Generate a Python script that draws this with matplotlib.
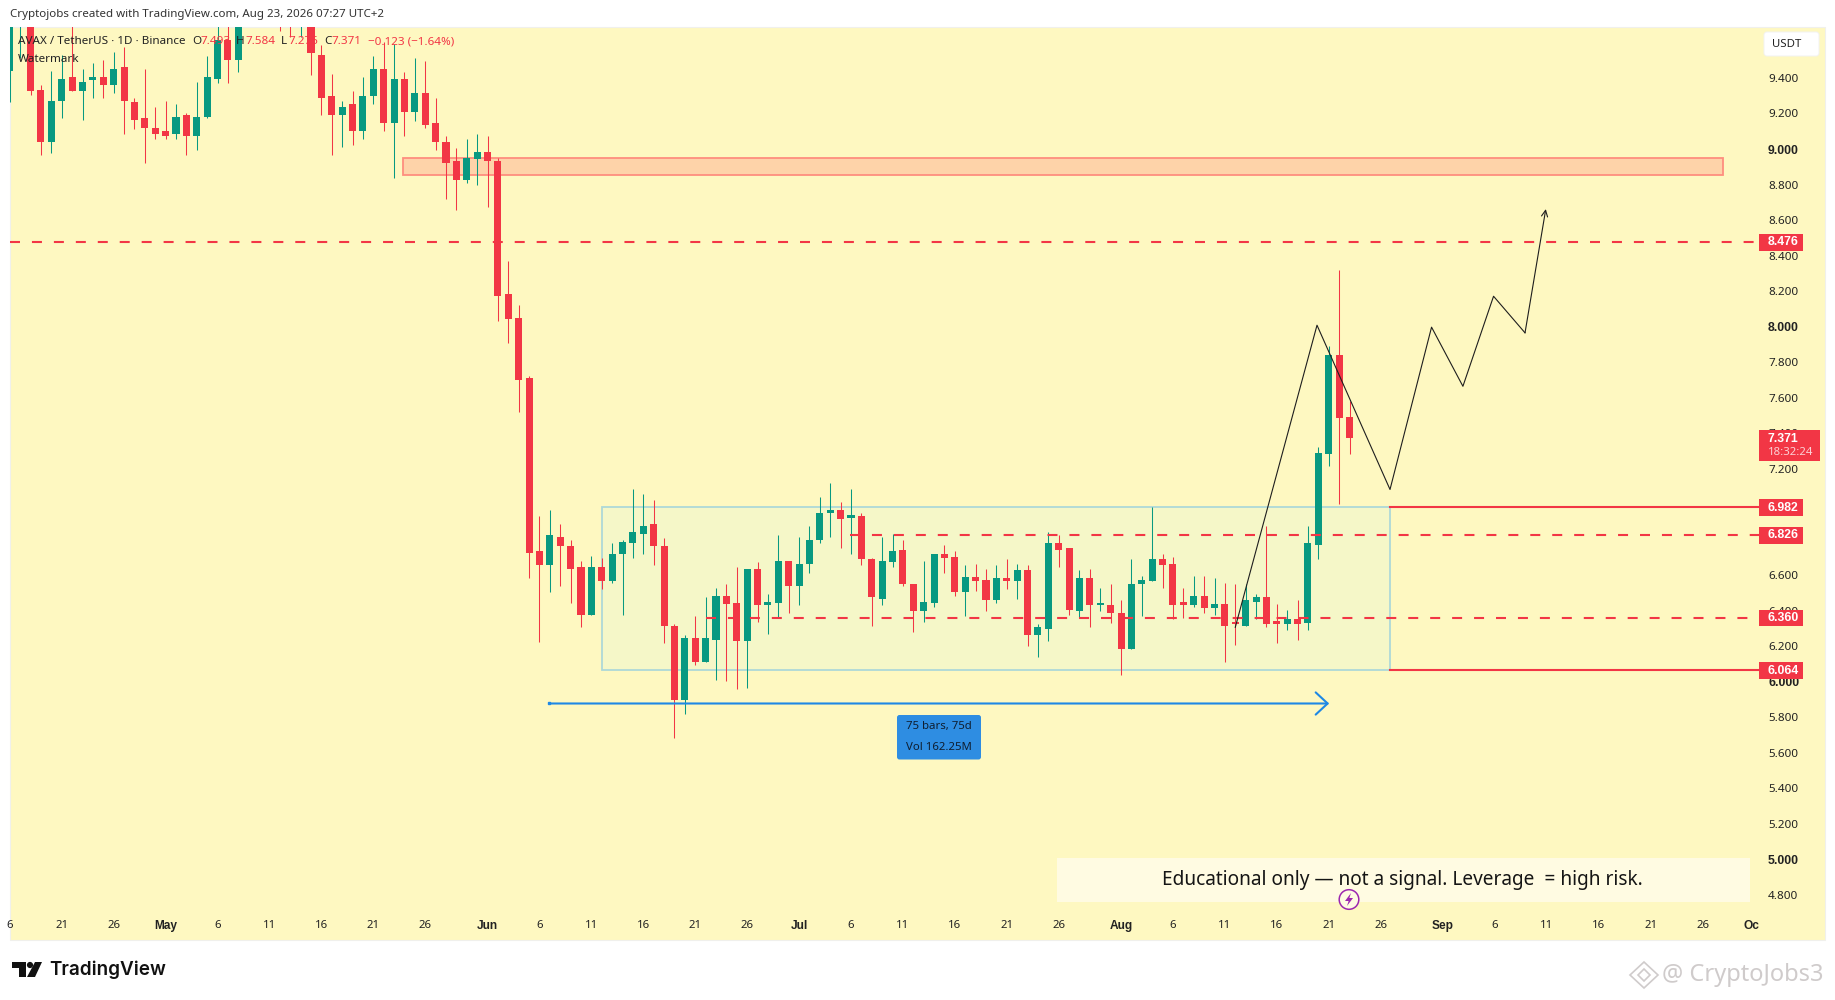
import matplotlib
matplotlib.use('Agg')
import matplotlib.pyplot as plt
from matplotlib.patches import Rectangle, FancyBboxPatch, Circle, Polygon
import numpy as np

plt.rcParams['font.family'] = ['Noto Sans', 'DejaVu Sans']
plt.rcParams['lines.scale_dashes'] = False

# days counted from May 1, first bar is Apr 16
first_day = -15

opens = [9.438, 9.75, 10.0, 9.330, 9.037, 9.268, 9.403, 9.324, 9.386, 9.403, 9.358, 9.459, 9.262, 9.172, 9.121,
         9.104, 9.087, 9.194, 9.076, 9.178, 9.397, 9.611, 9.504, 9.85, 10.0, 9.9, 9.95, 9.9, 9.78, 9.95,
         9.532, 9.301, 9.189, 9.251, 9.099, 9.296, 9.453, 9.149, 9.392, 9.206, 9.313, 9.144, 9.042, 8.930, 8.823,
         8.941, 8.986, 8.935, 8.181, 8.051, 7.708, 6.734, 6.660, 6.818, 6.767, 6.644, 6.379, 6.649, 6.565, 6.717,
         6.784, 6.835, 6.886, 6.767, 6.317, 5.895, 6.244, 6.109, 6.238, 6.486, 6.446, 6.232, 6.638, 6.430, 6.446,
         6.683, 6.537, 6.666, 6.796, 6.948, 6.970, 6.925, 6.931, 6.694, 6.469, 6.677, 6.745, 6.553, 6.401, 6.446,
         6.717, 6.705, 6.508, 6.593, 6.576, 6.463, 6.582, 6.570, 6.627, 6.266, 6.300, 6.779, 6.751, 6.401, 6.582,
         6.430, 6.435, 6.390, 6.187, 6.548, 6.570, 6.689, 6.666, 6.441, 6.430, 6.486, 6.418, 6.441, 6.328, 6.317,
         6.452, 6.480, 6.334, 6.328, 6.356, 6.334, 6.773, 7.285, 7.843, 7.493]
highs = [10.0, 10.05, 10.05, 9.363, 9.442, 9.532, 9.75, 9.453, 9.482, 9.504, 9.549, 9.572, 9.285, 9.453, 9.234,
         9.273, 9.251, 9.200, 9.380, 9.521, 9.75, 9.75, 9.9, 10.0, 10.05, 10.05, 10.0, 10.0, 10.0, 10.0,
         9.583, 9.420, 9.273, 9.324, 9.403, 9.521, 9.605, 9.589, 9.431, 9.510, 9.493, 9.290, 9.076, 9.003, 9.054,
         9.087, 9.076, 8.947, 8.372, 8.119, 7.724, 6.936, 6.965, 6.886, 6.796, 6.683, 6.711, 6.700, 6.779, 6.796,
         7.083, 7.055, 7.026, 6.807, 6.328, 6.266, 6.373, 6.475, 6.531, 6.548, 6.644, 6.638, 6.677, 6.492, 6.824,
         6.683, 6.818, 6.880, 7.038, 7.117, 7.010, 7.088, 6.953, 6.700, 6.818, 6.835, 6.796, 6.553, 6.683, 6.717,
         6.773, 6.739, 6.655, 6.666, 6.638, 6.655, 6.689, 6.666, 6.655, 6.323, 6.846, 6.829, 6.751, 6.632, 6.638,
         6.531, 6.548, 6.458, 6.689, 6.598, 6.987, 6.722, 6.705, 6.531, 6.598, 6.598, 6.587, 6.559, 6.548, 6.548,
         6.497, 6.880, 6.441, 6.407, 6.458, 6.880, 7.325, 7.893, 8.321, 7.584]
lows = [9.264, 9.514, 9.303, 8.964, 8.980, 9.172, 9.324, 9.161, 9.285, 9.285, 9.313, 9.082, 9.110, 8.924, 9.054,
        9.059, 9.059, 8.969, 8.992, 9.172, 9.369, 9.369, 9.431, 9.72, 9.75, 9.75, 9.662, 9.628, 9.628, 9.414,
        9.194, 8.964, 9.014, 9.020, 9.059, 9.251, 9.099, 8.834, 9.071, 9.155, 9.119, 8.997, 8.716, 8.659, 8.811,
        8.800, 8.676, 8.030, 7.910, 7.522, 6.587, 6.227, 6.508, 6.542, 6.446, 6.306, 6.379, 6.525, 6.559, 6.379,
        6.700, 6.717, 6.655, 6.216, 5.686, 5.821, 6.097, 6.109, 6.013, 6.002, 5.957, 5.968, 6.339, 6.272, 6.362,
        6.390, 6.430, 6.615, 6.784, 6.818, 6.756, 6.717, 6.655, 6.317, 6.430, 6.649, 6.542, 6.283, 6.339, 6.424,
        6.610, 6.486, 6.373, 6.514, 6.396, 6.446, 6.525, 6.469, 6.199, 6.142, 6.232, 6.649, 6.379, 6.362, 6.311,
        6.396, 6.334, 6.041, 6.187, 6.373, 6.565, 6.531, 6.351, 6.362, 6.424, 6.390, 6.379, 6.114, 6.210, 6.317,
        6.351, 6.306, 6.221, 6.294, 6.238, 6.294, 6.694, 7.218, 7.004, 7.280]
closes = [9.9, 10.0, 9.326, 9.037, 9.273, 9.392, 9.324, 9.380, 9.403, 9.358, 9.453, 9.268, 9.166, 9.116, 9.087,
          9.076, 9.183, 9.076, 9.183, 9.403, 9.611, 9.499, 9.8, 9.95, 9.9, 10.0, 9.75, 9.78, 9.9, 9.538,
          9.285, 9.194, 9.239, 9.104, 9.301, 9.453, 9.149, 9.392, 9.206, 9.313, 9.138, 9.037, 8.924, 8.823, 8.947,
          8.986, 8.930, 8.175, 8.045, 7.702, 6.728, 6.660, 6.824, 6.762, 6.638, 6.379, 6.649, 6.570, 6.722, 6.790,
          6.841, 6.880, 6.762, 6.317, 5.895, 6.244, 6.109, 6.244, 6.486, 6.441, 6.232, 6.638, 6.430, 6.452, 6.683,
          6.537, 6.666, 6.801, 6.948, 6.970, 6.919, 6.931, 6.689, 6.475, 6.683, 6.739, 6.548, 6.401, 6.452, 6.717,
          6.700, 6.508, 6.593, 6.570, 6.463, 6.582, 6.570, 6.627, 6.266, 6.306, 6.779, 6.745, 6.407, 6.582, 6.430,
          6.435, 6.385, 6.187, 6.553, 6.576, 6.689, 6.660, 6.435, 6.435, 6.486, 6.418, 6.441, 6.317, 6.323, 6.458,
          6.480, 6.328, 6.328, 6.356, 6.328, 6.779, 7.291, 7.843, 7.488, 7.371]

tick_days = [-15, -10, -5, 0, 5, 10, 15, 20, 25, 31, 36, 41, 46, 51, 56, 61, 66, 71, 76, 81, 86, 92, 97, 102, 107, 112, 117,
             123, 128, 133, 138, 143, 148, 152.7]
tick_names = ['6', '21', '26', 'May', '6', '11', '16', '21', '26', 'Jun', '6', '11', '16', '21', '26', 'Jul', '6', '11',
              '16', '21', '26', 'Aug', '6', '11', '16', '21', '26', 'Sep', '6', '11', '16', '21', '26', 'Oc']
# 7.0 and 6.8 sit fully behind the level labels in the chart
price_ticks = [9.4, 9.2, 9.0, 8.8, 8.6, 8.4, 8.2, 8.0, 7.8, 7.6, 7.4, 7.2, 6.6, 6.4, 6.2, 6.0, 5.8, 5.6,
               5.4, 5.2, 5.0, 4.8]

level_prices = [8.476, 6.982, 6.826, 6.360, 6.064]
zone_days = [22.86, 149.98]
zone_prices = [8.854, 8.952]
range_days = [42.04, 117.9]
range_prices = [6.064, 6.982]
path_days = [103.0, 110.87, 117.9, 121.9, 124.92, 127.87, 130.9, 132.9]
path_prices = [6.307, 8.008, 7.083, 7.997, 7.664, 8.171, 7.965, 8.662]
measure_days = [36.95, 112.04]
measure_price = 5.878

RED = '#F23645'
GREEN = '#089981'
W, H = 1835, 1000
X_START = -15.03
X_END = 153.43

fig = plt.figure(figsize=(18.35, 10), dpi=100, facecolor='white')
fig.add_artist(Rectangle((9.5 / W, 1 - 940 / H), (1825 - 9.5) / W, (940 - 27) / H, transform=fig.transFigure,
                         facecolor='#FEF8C1', edgecolor='#F0F0EC', lw=0.8, zorder=-1))

ax = fig.add_axes([9.5 / W, 1 - 912 / H, (1759 - 9.5) / W, (912 - 27) / H], facecolor='none')
ax.set_xlim(X_START, X_END)
ax.set_ylim(4.704, 9.687)
for s in ax.spines.values():
    s.set_visible(False)

# boxes go under the candles
ax.add_patch(Rectangle((range_days[0], range_prices[0]), range_days[1] - range_days[0], range_prices[1] - range_prices[0],
                       facecolor='#F5F7C8', edgecolor='#AED8D8', lw=1.3, zorder=1))
ax.add_patch(Rectangle((zone_days[0], zone_prices[0]), zone_days[1] - zone_days[0], zone_prices[1] - zone_prices[0],
                       facecolor='#FED3A9', edgecolor='#FE8E7E', lw=1.3, zorder=1))

days = np.arange(first_day, first_day + len(opens))
o = np.array(opens)
c = np.array(closes)
cols = [GREEN if b >= a else RED for a, b in zip(o, c)]
ax.vlines(days, lows, highs, colors=cols, lw=0.75, zorder=2)
ax.bar(days, np.maximum(np.abs(c - o), 0.012), bottom=np.minimum(o, c), width=0.68, color=cols, lw=0, zorder=3)

# levels
dash = (0, (7.2, 8.6))
ax.plot([X_START, X_END], [level_prices[0]] * 2, color=RED, lw=1.5, ls=dash, zorder=4)
ax.plot([range_days[1], X_END], [level_prices[1]] * 2, color=RED, lw=1.5, zorder=4)
ax.plot([65.9, X_END], [level_prices[2]] * 2, color=RED, lw=1.5, ls=dash, zorder=4)
ax.plot([52.03, X_END], [level_prices[3]] * 2, color=RED, lw=1.5, ls=dash, zorder=4)
ax.plot([range_days[1], X_END], [level_prices[4]] * 2, color=RED, lw=1.5, zorder=4)

# forecast path
ax.plot(path_days[:-1], path_prices[:-1], color='#1E1E1E', lw=0.8, zorder=5)
ax.annotate('', xy=(path_days[-1], path_prices[-1]), xytext=(path_days[-2], path_prices[-2]), zorder=5,
            arrowprops=dict(arrowstyle='->,head_length=0.45,head_width=0.22', color='#1E1E1E', lw=0.8,
                            shrinkA=0, shrinkB=0, mutation_scale=10))

# date range measure
ax.annotate('', xy=(measure_days[1], measure_price), xytext=(measure_days[0], measure_price), zorder=5,
            arrowprops=dict(arrowstyle='->,head_length=0.86,head_width=0.8', color='#1E88E5', lw=1.5,
                            shrinkA=0, shrinkB=0, mutation_scale=10))
ax.plot(measure_days[0], measure_price, 's', color='#1E88E5', ms=2, zorder=5)

ax.yaxis.tick_right()
ax.set_yticks(price_ticks)
ax.set_yticklabels(['%.3f' % v for v in price_ticks], fontsize=8.4, color='#222222')
ax.tick_params(axis='y', length=0, pad=6.5)
ax.set_xticks(tick_days)
ax.set_xticklabels(tick_names, fontsize=8.2, color='#222222')
ax.tick_params(axis='x', length=0, pad=6)
for t in ax.get_xticklabels():
    if t.get_text() in ('May', 'Jun', 'Jul', 'Aug', 'Sep', 'Oc'):
        t.set_family('Liberation Sans')
        t.set_fontweight('bold')
        t.set_fontsize(8.6)
for t in ax.get_yticklabels():
    if t.get_text() in ('9.000', '8.000', '6.000', '5.000'):
        t.set_family('Liberation Sans')
        t.set_fontweight('bold')
        t.set_fontsize(8.8)

# overlay in pixels for the chrome
ov = fig.add_axes([0, 0, 1, 1], facecolor='none')
ov.set_xlim(0, W)
ov.set_ylim(H, 0)
ov.axis('off')

ov.text(9.5, 15, 'Cryptojobs created with TradingView.com, Aug 23, 2026 07:27 UTC+2', fontsize=8.3, color='#333333', va='center')

legend_bits = [(18, 'AVAX / TetherUS · 1D · Binance', '#222222'), (192, 'O', '#222222'), (200, '7.493', RED),
               (236, 'H', '#222222'), (245, '7.584', RED), (281, 'L', '#222222'), (288, '7.276', RED),
               (324, 'C', '#222222'), (331, '7.371', RED), (368, '−0.123 (−1.64%)', RED)]
for x, s, col in legend_bits:
    ov.text(x, 41.5, s, fontsize=8.4, color=col, va='center')
ov.text(18, 59, 'Watermark', fontsize=8.4, color='#222222', va='center')

ov.add_patch(FancyBboxPatch((1764, 32), 55, 24, boxstyle='round,pad=0,rounding_size=3', facecolor='white', edgecolor='#F2F2F2', lw=0.7))
ov.text(1772, 44.5, 'USDT', fontsize=8.2, color='#222222', va='center')

# price labels
for p in level_prices:
    y = 149 + (9 - p) * 177.6
    ov.add_patch(Rectangle((1759, y - 8), 44, 16.5, facecolor=RED, edgecolor='none'))
    ov.text(1767.5, y + 0.3, '%.3f' % p, fontsize=8.8, family='Liberation Sans', color='white', fontweight='bold', va='center')
ov.add_patch(Rectangle((1759, 430), 61, 31, facecolor=RED, edgecolor='none'))
ov.text(1767.5, 438.5, '7.371', fontsize=8.8, family='Liberation Sans', color='white', fontweight='bold', va='center')
ov.text(1767.5, 452.5, '18:32:24', fontsize=8.2, color='#FBD0D4', va='center')

# measure tooltip
ov.add_patch(FancyBboxPatch((897, 715), 84, 44.5, boxstyle='round,pad=0,rounding_size=2.5', facecolor='#2E8DE2', edgecolor='none'))
ov.text(939, 726, '75 bars, 75d', fontsize=8.2, color='#0F1E30', ha='center', va='center')
ov.text(939, 747, 'Vol 162.25M', fontsize=8.2, color='#0F1E30', ha='center', va='center')

# note
ov.add_patch(Rectangle((1057, 858), 693, 44, facecolor='#FFFBE2', edgecolor='none'))
ov.text(1402, 880, 'Educational only — not a signal. Leverage  = high risk.', fontsize=13.7, color='#151515', ha='center', va='center')

ov.add_patch(Circle((1349, 899.5), 9.8, facecolor='#FFFBE2', edgecolor='#9C27B0', lw=1.1))
ov.add_patch(Polygon([(1351, 893), (1345, 901), (1348.6, 901), (1347, 906), (1353, 898), (1349.4, 898)], facecolor='#9C27B0', edgecolor='none'))

# tradingview logo
ov.add_patch(Polygon([(12, 962), (26, 962), (26, 977), (19, 977), (19, 968), (12, 968)], facecolor='#111111', edgecolor='none'))
ov.add_patch(Circle((30, 965), 3.1, facecolor='#111111', edgecolor='none'))
ov.add_patch(Polygon([(35, 962), (42, 962), (35, 977), (27, 977)], facecolor='#111111', edgecolor='none'))
ov.text(49, 969.5, 'TradingView', fontsize=13.6, family='Inter', fontweight='semibold', color='#111111', va='center')

# corner mark
mark_grey = '#CFCBCB'
ov.add_patch(Polygon([(1644, 962), (1658, 975), (1644, 988), (1630, 975)], facecolor='none', edgecolor=mark_grey, lw=1.2))
ov.add_patch(Polygon([(1644, 969), (1650, 975), (1644, 981), (1638, 975)], facecolor='none', edgecolor=mark_grey, lw=1.2))
ov.text(1662, 975, '@ CryptoJobs3', fontsize=17, color=mark_grey, va='center')

fig.savefig('out.png', dpi=100)
